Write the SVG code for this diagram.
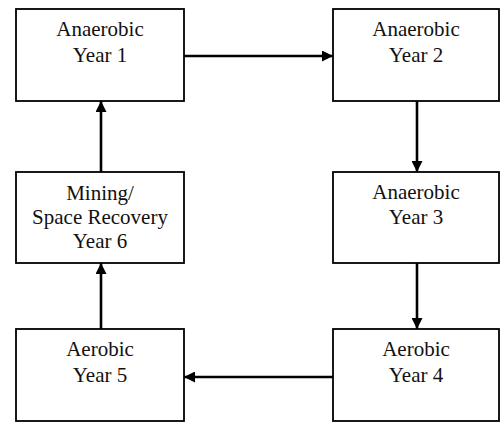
<svg xmlns="http://www.w3.org/2000/svg" width="500" height="422" viewBox="0 0 500 422">
<style>
.box{fill:#fff;stroke:#000;stroke-width:1.8}
.lbl{font-family:'Liberation Serif','Times New Roman',serif;font-size:21px;fill:#111;text-anchor:middle}
.con{stroke:#000;stroke-width:2.6;fill:none}
</style>
<defs>
<marker id="ah" viewBox="0 0 10 10" refX="10" refY="5" markerWidth="11" markerHeight="11" markerUnits="userSpaceOnUse" orient="auto">
<path d="M0,0 L10,5 L0,10 Z" fill="#000"/>
</marker>
</defs>
<g id="connectors">
<line class="con" x1="184" y1="56" x2="333" y2="56" marker-end="url(#ah)"/>
<line class="con" x1="417" y1="101" x2="417" y2="172" marker-end="url(#ah)"/>
<line class="con" x1="417" y1="263" x2="417" y2="329" marker-end="url(#ah)"/>
<line class="con" x1="333" y1="377" x2="184" y2="377" marker-end="url(#ah)"/>
<line class="con" x1="101" y1="329" x2="101" y2="263" marker-end="url(#ah)"/>
<line class="con" x1="101" y1="172" x2="101" y2="101" marker-end="url(#ah)"/>
</g>
<g id="n1">
<rect class="box" x="16" y="9" width="168" height="92"/>
<text class="lbl" x="100" y="36">Anaerobic</text>
<text class="lbl" x="100" y="62">Year 1</text>
</g>
<g id="n2">
<rect class="box" x="333" y="9" width="166" height="92"/>
<text class="lbl" x="416" y="36">Anaerobic</text>
<text class="lbl" x="416" y="62">Year 2</text>
</g>
<g id="n3">
<rect class="box" x="333" y="172" width="166" height="91"/>
<text class="lbl" x="416" y="199">Anaerobic</text>
<text class="lbl" x="416" y="224">Year 3</text>
</g>
<g id="n4">
<rect class="box" x="333" y="329" width="166" height="92"/>
<text class="lbl" x="416" y="356">Aerobic</text>
<text class="lbl" x="416" y="382">Year 4</text>
</g>
<g id="n5">
<rect class="box" x="16" y="329" width="168" height="92"/>
<text class="lbl" x="100" y="356">Aerobic</text>
<text class="lbl" x="100" y="382">Year 5</text>
</g>
<g id="n6">
<rect class="box" x="16" y="172" width="168" height="91"/>
<text class="lbl" x="100" y="200">Mining/</text>
<text class="lbl" x="100" y="224">Space Recovery</text>
<text class="lbl" x="100" y="248">Year 6</text>
</g>
</svg>
